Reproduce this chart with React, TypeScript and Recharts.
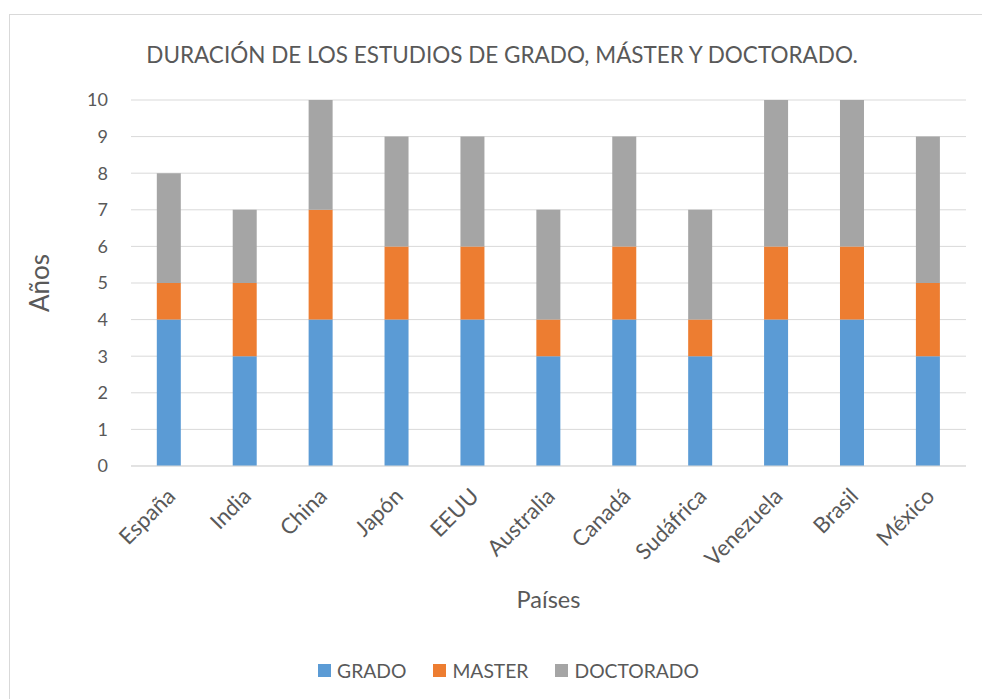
import React from 'react';
import { BarChart, Bar, XAxis, YAxis, CartesianGrid, Legend } from 'recharts';

const paises = ['España', 'India', 'China', 'Japón', 'EEUU', 'Australia', 'Canadá', 'Sudáfrica', 'Venezuela', 'Brasil', 'México'];
const grado = [4, 3, 4, 4, 4, 3, 4, 3, 4, 4, 3];
const master = [1, 2, 3, 2, 2, 1, 2, 1, 2, 2, 2];
const doctorado = [3, 2, 3, 3, 3, 3, 3, 3, 4, 4, 4];
const yTicks = [0, 1, 2, 3, 4, 5, 6, 7, 8, 9, 10];

const FONT = 'Lato, "Open Sans", sans-serif';
const TEXT = '#595959';

const series = [
 { key: 'GRADO', color: '#5B9BD5' },
 { key: 'MASTER', color: '#ED7D31' },
 { key: 'DOCTORADO', color: '#A5A5A5' },
];

const data = paises.map((p, i) => ({
 pais: p,
 GRADO: grado[i],
 MASTER: master[i],
 DOCTORADO: doctorado[i],
}));

// rotated category labels like the spreadsheet does
const AngledTick = ({ x, y, payload }: any) => (
 <g transform={`translate(${x + 2},${y + 18})`}>
 <text transform="rotate(-45)" textAnchor="end" fill={TEXT} fontSize={22} fontFamily={FONT} dy={8}>
 {payload.value}
 </text>
 </g>
);

const LegendBox = () => (
 <div style={{ display: 'flex', justifyContent: 'center', alignItems: 'center', fontFamily: FONT, fontSize: 19.3, color: TEXT, marginLeft: 20, marginTop: 9 }}>
 {series.map((s, i) => (
 <div key={s.key} style={{ display: 'flex', alignItems: 'center', marginLeft: i ? 27 : 0 }}>
 <span style={{ width: 13, height: 13, background: s.color, display: 'inline-block', marginRight: 6 }} />
 <span>{s.key}</span>
 </div>
 ))}
 </div>
);

export default function App() {
 return (
 <div style={{ position: 'absolute', left: 0, top: 0, width: 982, height: 699, background: '#fff', overflow: 'hidden' }}>
 <div style={{ position: 'absolute', left: 9, top: 14, width: 990, height: 700, borderTop: '1px solid #d9d9d9', borderLeft: '1px solid #d9d9d9' }} />
 <div style={{ position: 'absolute', left: 0, top: 41, width: 1004, textAlign: 'center', fontFamily: FONT, fontSize: 22.5, color: TEXT }}>
 DURACIÓN DE LOS ESTUDIOS DE GRADO, MÁSTER Y DOCTORADO.
 </div>
 <div style={{ position: 'absolute', left: 0, top: 0 }}>
 <BarChart width={982} height={699} data={data} margin={{ top: 100, right: 16, left: 31, bottom: 9 }} barCategoryGap="34%">
 <CartesianGrid vertical={false} stroke="#d9d9d9" />
 <XAxis
 dataKey="pais"
 height={184}
 interval={0}
 axisLine={{ stroke: '#d9d9d9' }}
 tickLine={false}
 tick={<AngledTick />}
 label={{ value: 'Países', position: 'insideBottom', offset: 42, fill: TEXT, fontSize: 23.5, fontFamily: FONT }}
 />
 <YAxis
 width={100}
 domain={[0, 10]}
 ticks={yTicks}
 interval={0}
 axisLine={false}
 tickLine={false}
 tickSize={0}
 tickMargin={23}
 tick={{ fill: TEXT, fontSize: 18, fontFamily: FONT }}
 label={{ value: 'Años', angle: -90, position: 'insideLeft', offset: 9, fill: TEXT, fontSize: 26, fontFamily: FONT, style: { textAnchor: 'middle' } }}
 />
 <Legend verticalAlign="bottom" height={40} content={<LegendBox />} />
 {series.map(s => (
 <Bar key={s.key} dataKey={s.key} stackId="a" fill={s.color} isAnimationActive={false} />
 ))}
 </BarChart>
 </div>
 </div>
 );
}
